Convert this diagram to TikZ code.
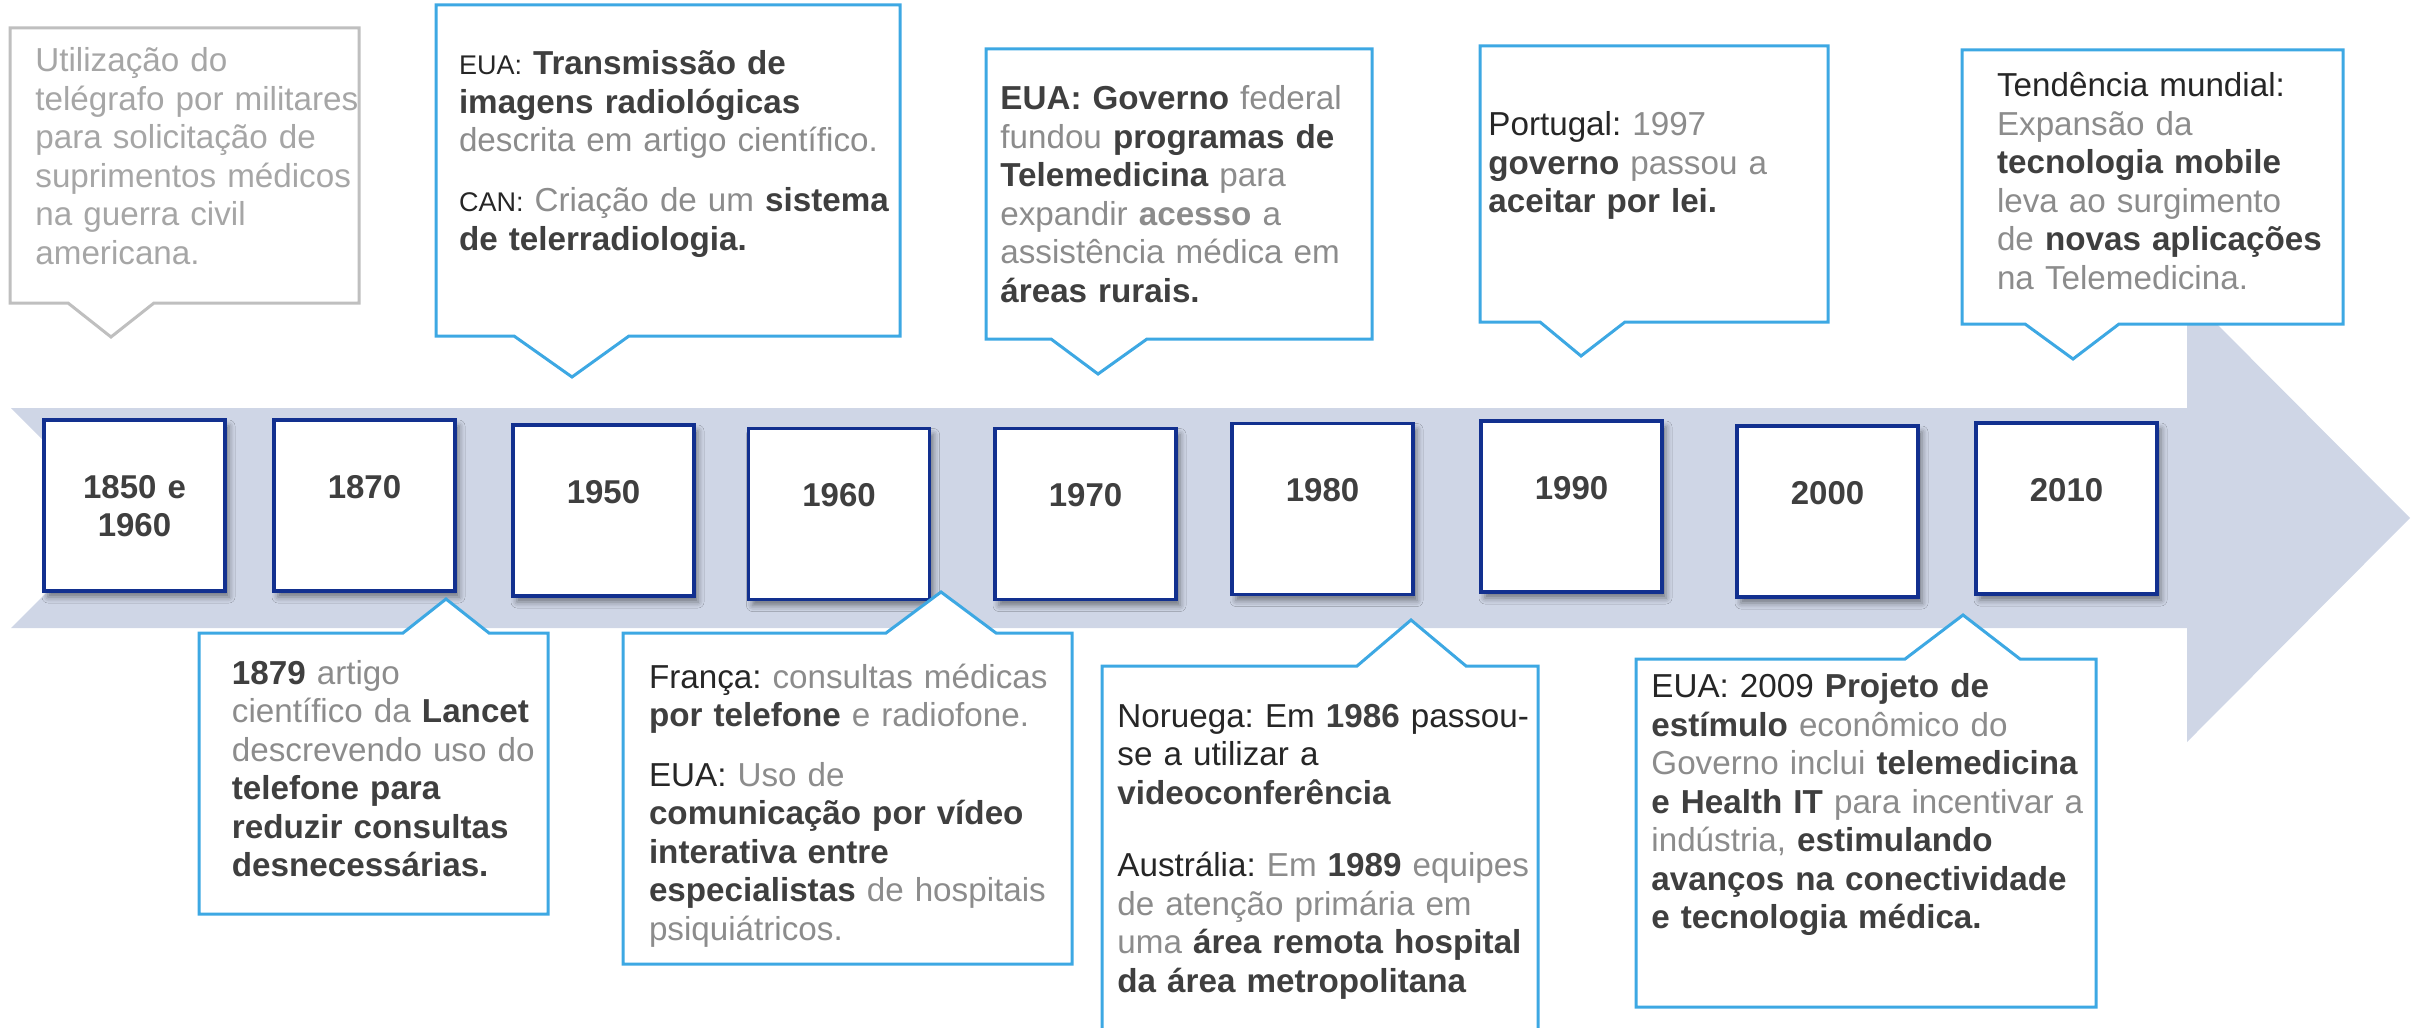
\documentclass[tikz,border=0pt]{standalone}
\usepackage{fontspec}
\setmainfont{Liberation Sans}
\usetikzlibrary{shadows.blur}
\frenchspacing

\definecolor{bandfill}{HTML}{CFD6E6}
\definecolor{boxline}{HTML}{12308F}
\definecolor{calline}{HTML}{3DA8E3}
\definecolor{oldline}{HTML}{BFBFBF}
\definecolor{oldtxt}{HTML}{A6A6A6}
\definecolor{darktxt}{HTML}{3F3F3F}
\definecolor{greytxt}{HTML}{8C8C8C}
\definecolor{labeltxt}{HTML}{262626}

\newcommand{\tlbold}[1]{\textbf{\color{darktxt}#1}}
\newcommand{\tllabel}[1]{{\color{labeltxt}#1}}
\newcommand{\tlsmall}[1]{{\fontsize{13.5}{19.25}\selectfont\color{labeltxt}#1}}

\begin{document}
\begin{tikzpicture}[x = 0.5pt, y = -0.5pt,
    yearbox/.style = {draw=boxline, line width=1.6pt, fill=white, inner sep=0pt,
        minimum width=90.5pt, minimum height=85.5pt,
        blur shadow={shadow xshift=2pt, shadow yshift=-3pt, shadow blur radius=3pt, shadow opacity=45}},
    yeartxt/.style = {font=\fontsize{16.5}{19.25}\selectfont\bfseries, text=darktxt,
        anchor=base, align=center, text width=90pt, inner sep=0pt},
    callout/.style = {draw=calline, line width=1.5pt, fill=white},
    oldcallout/.style = {draw=oldline, line width=1.5pt, fill=white},
    caltxt/.style = {font=\fontsize{16.6}{19.25}\selectfont, text=greytxt,
        anchor=base west, align=left, text width=250pt, inner sep=0pt}]
    \useasboundingbox (0,0) rectangle (2412,1027);
    \clip (0,0) rectangle (2412,1027);

    \fill[bandfill]
    (11,408) -- (2187,408) -- (2187,294) -- (2410,518) -- (2187,742) -- (2187,628) -- (11,628) -- (121,518) -- cycle;

    \node[yearbox] (b1850) at (134.5,505.5) {};
    \node[yearbox] (b1870) at (364.5,505.5) {};
    \node[yearbox] (b1950) at (603.5,510.5) {};
    \node[yearbox] (b1960) at (839,514) {};
    \node[yearbox] (b1970) at (1085.5,514) {};
    \node[yearbox] (b1980) at (1322.5,509) {};
    \node[yearbox] (b1990) at (1571.5,506.5) {};
    \node[yearbox] (b2000) at (1827.5,511.5) {};
    \node[yearbox] (b2010) at (2066.5,508.5) {};

    \node[yeartxt] (t1850) at ([yshift=-40pt]b1850.north) {1850 e\\1960};
    \node[yeartxt] (t1870) at ([yshift=-40pt]b1870.north) {1870};
    \node[yeartxt] (t1950) at ([yshift=-40pt]b1950.north) {1950};
    \node[yeartxt] (t1960) at ([yshift=-40pt]b1960.north) {1960};
    \node[yeartxt] (t1970) at ([yshift=-40pt]b1970.north) {1970};
    \node[yeartxt] (t1980) at ([yshift=-40pt]b1980.north) {1980};
    \node[yeartxt] (t1990) at ([yshift=-40pt]b1990.north) {1990};
    \node[yeartxt] (t2000) at ([yshift=-40pt]b2000.north) {2000};
    \node[yeartxt] (t2010) at ([yshift=-40pt]b2010.north) {2010};

    % balloons above the band
    \draw[oldcallout]
    (10,28) -- (359,28) -- (359,303) -- (154,303) -- (111,337) -- (68,303) -- (10,303) -- cycle;
    \draw[callout]
    (436,5) -- (900,5) -- (900,336) -- (629,336) -- (572,377) -- (514,336) -- (436,336) -- cycle;
    \draw[callout]
    (986,49) -- (1372,49) -- (1372,339) -- (1147,339) -- (1098,374) -- (1051,339) -- (986,339) -- cycle;
    \draw[callout]
    (1480,46) -- (1828,46) -- (1828,322) -- (1625,322) -- (1581,356) -- (1540,322) -- (1480,322) -- cycle;
    \draw[callout]
    (1962,50) -- (2343,50) -- (2343,324) -- (2119,324) -- (2073,359) -- (2025,324) -- (1962,324) -- cycle;

    % balloons below the band
    \draw[callout]
    (199,633) -- (403,633) -- (446,599) -- (489,633) -- (548,633) -- (548,914) -- (199,914) -- cycle;
    \draw[callout]
    (623,633) -- (886,633) -- (941,592) -- (996,633) -- (1072,633) -- (1072,964) -- (623,964) -- cycle;
    \draw[callout]
    (1102,666) -- (1357,666) -- (1411,620) -- (1466,666) -- (1538,666) -- (1538,1040) -- (1102,1040) -- cycle;
    \draw[callout]
    (1636,659) -- (1905,659) -- (1963,615) -- (2020,659) -- (2096,659) -- (2096,1007) -- (1636,1007) -- cycle;

    \node[caltxt, text=oldtxt] (tTelegrafo) at (35,71.7)
    {Utilização do\\telégrafo por militares\\para solicitação de\\suprimentos médicos\\na guerra civil\\americana.};
    \node[caltxt] (tRadio) at (458.6,75)
    {\tlsmall{EUA:} \tlbold{Transmissão de}\\\tlbold{imagens radiológicas}\\descrita em artigo científico.\\[10.7pt]
     \tlsmall{CAN:} Criação de um \tlbold{sistema}\\\tlbold{de telerradiologia.}};
    \node[caltxt] (tGoverno) at (1000,110)
    {\tlbold{EUA: Governo} federal\\fundou \tlbold{programas de}\\\tlbold{Telemedicina} para\\expandir \textbf{acesso} a\\assistência médica em\\\tlbold{áreas rurais.}};
    \node[caltxt] (tPortugal) at (1488,136)
    {\tllabel{Portugal:} 1997\\\tlbold{governo} passou a\\\tlbold{aceitar por lei.}};
    \node[caltxt] (tMundial) at (1996.6,97)
    {\tllabel{Tendência mundial:}\\Expansão da\\\tlbold{tecnologia mobile}\\leva ao surgimento\\de \tlbold{novas aplicações}\\na Telemedicina.};

    \node[caltxt] (tLancet) at (231.5,684)
    {\tlbold{1879} artigo\\científico da \tlbold{Lancet}\\descrevendo uso do\\\tlbold{telefone para}\\\tlbold{reduzir consultas}\\\tlbold{desnecessárias.}};
    \node[caltxt] (tFranca) at (648.6,688)
    {\tllabel{França:} consultas médicas\\\tlbold{por telefone} e radiofone.\\[10.7pt]
     \tllabel{EUA:} Uso de\\\tlbold{comunicação por vídeo}\\\tlbold{interativa entre}\\\tlbold{especialistas} de hospitais\\psiquiátricos.};
    \node[caltxt] (tNoruega) at (1117,727)
    {\tllabel{Noruega: Em} \tlbold{1986} \tllabel{passou-}\\\tllabel{se a utilizar a}\\\tlbold{videoconferência}\\[17pt]
     \tllabel{Austrália:} Em \tlbold{1989} equipes\\de atenção primária em\\uma \tlbold{área remota hospital}\\\tlbold{da área metropolitana}};
    \node[caltxt] (tEua) at (1651,697.6)
    {\tllabel{EUA: 2009} \tlbold{Projeto de}\\\tlbold{estímulo} econômico do\\Governo inclui \tlbold{telemedicina}\\\tlbold{e Health IT} para incentivar a\\indústria, \tlbold{estimulando}\\\tlbold{avanços na conectividade}\\\tlbold{e tecnologia médica.}};
    \end{tikzpicture}
\end{document}
